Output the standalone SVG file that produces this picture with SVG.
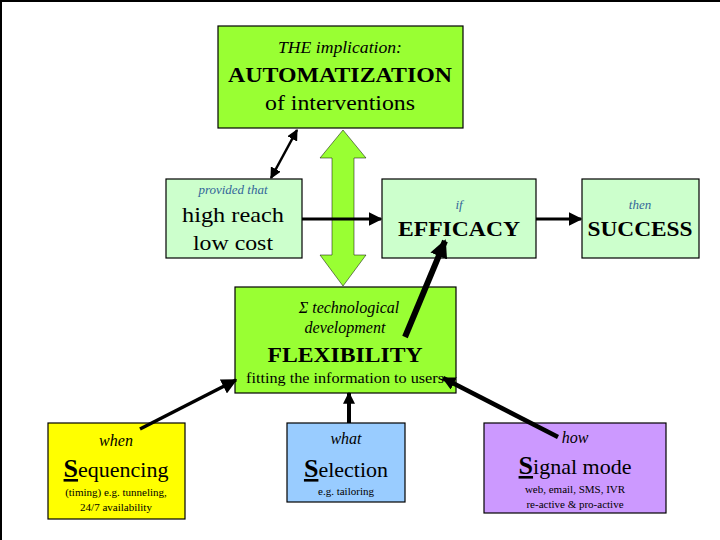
<svg xmlns="http://www.w3.org/2000/svg" width="720" height="540" viewBox="0 0 720 540">
<defs>
<style>
.box{stroke:#000;stroke-width:1.2}
.lime{fill:#99FF33}
.pale{fill:#CCFFCC}
text{fill:#000;text-anchor:middle}
.it{font-style:italic}
.b{font-weight:bold}
.blue{fill:#336699}
.ln{stroke:#000;fill:none}
</style>
<marker id="ahs" viewBox="0 0 10 10" refX="9" refY="5" markerWidth="3" markerHeight="3" orient="auto-start-reverse" markerUnits="strokeWidth">
<path d="M0,0 L10,5 L0,10 z" fill="#000"/>
</marker>
<marker id="aht" viewBox="0 0 10 10" refX="9" refY="5" markerWidth="4.5" markerHeight="4.5" orient="auto-start-reverse" markerUnits="strokeWidth">
<path d="M0,0 L10,5 L0,10 z" fill="#000"/>
</marker>
</defs>
<rect width="720" height="540" fill="#fff"/>
<path d="M1,540 V1 H720" stroke="#000" stroke-width="2" fill="none"/>

<g font-family="Liberation Serif, DejaVu Serif, serif">
<g id="top">
<rect class="box lime" x="218" y="26" width="245" height="102"/>
<text class="it" x="340" y="53" font-size="16" textLength="124" lengthAdjust="spacingAndGlyphs">THE implication:</text>
<text class="b" x="340" y="82" font-size="22" textLength="224" lengthAdjust="spacingAndGlyphs">AUTOMATIZATION</text>
<text x="340" y="110" font-size="21" textLength="150" lengthAdjust="spacingAndGlyphs">of interventions</text>
</g>

<g id="reach">
<rect class="box pale" x="166" y="179" width="136" height="79"/>
<text class="it blue" x="233" y="194" font-size="13">provided that</text>
<text x="233" y="222" font-size="21" textLength="102" lengthAdjust="spacingAndGlyphs">high reach</text>
<text x="233" y="250" font-size="21" textLength="80" lengthAdjust="spacingAndGlyphs">low cost</text>
</g>

<g id="efficacy">
<rect class="box pale" x="382" y="179" width="154" height="79"/>
<text class="it blue" x="459" y="209" font-size="13">if</text>
<text class="b" x="459" y="236" font-size="20" textLength="122" lengthAdjust="spacingAndGlyphs">EFFICACY</text>
</g>

<g id="success">
<rect class="box pale" x="582" y="179" width="117" height="79"/>
<text class="it blue" x="640" y="209" font-size="13">then</text>
<text class="b" x="640" y="236" font-size="20" textLength="105" lengthAdjust="spacingAndGlyphs">SUCCESS</text>
</g>

<g id="flexibility">
<rect class="box lime" x="235" y="287" width="221" height="106"/>
<text class="it" x="349" y="313" font-size="16">Σ technological</text>
<text class="it" x="345" y="333" font-size="16">development</text>
<text class="b" x="345" y="362" font-size="22" textLength="155" lengthAdjust="spacingAndGlyphs">FLEXIBILITY</text>
<text x="345" y="383" font-size="14" textLength="198" lengthAdjust="spacingAndGlyphs">fitting the information to users</text>
</g>

<g id="sequencing">
<rect class="box" fill="#FFFF00" x="48" y="423" width="137" height="96"/>
<text class="it" x="116" y="446" font-size="16">when</text>
<text x="116" y="477" font-size="22"><tspan font-weight="bold" font-size="26" text-decoration="underline">S</tspan>equencing</text>
<text x="116" y="496" font-size="11">(timing)  e.g. tunneling,</text>
<text x="116" y="511" font-size="11">24/7 availability</text>
</g>

<g id="selection">
<rect class="box" fill="#99CCFF" x="287" y="423" width="118" height="79"/>
<text class="it" x="346" y="444" font-size="16">what</text>
<text x="346" y="477" font-size="22"><tspan font-weight="bold" font-size="26" text-decoration="underline">S</tspan>election</text>
<text x="346" y="495" font-size="11">e.g. tailoring</text>
</g>

<g id="signal">
<rect class="box" fill="#CC99FF" x="484" y="423" width="182" height="90"/>
<text class="it" x="575" y="443" font-size="16">how</text>
<text x="575" y="474" font-size="22"><tspan font-weight="bold" font-size="26" text-decoration="underline">S</tspan>ignal mode</text>
<text x="575" y="493" font-size="11">web, email, SMS, IVR</text>
<text x="575" y="508" font-size="11">re-active &amp; pro-active</text>
</g>
</g>

<g id="connectors">
<path d="M343,130 L366,158 L354,158 L354,255 L366,255 L343,286 L320,255 L332,255 L332,158 L320,158 Z" fill="#99FF33" stroke="#000" stroke-width="0.5"/>
<line class="ln" x1="271" y1="178" x2="297" y2="130" stroke-width="2.5" marker-start="url(#aht)" marker-end="url(#aht)"/>
<line class="ln" x1="302" y1="219" x2="381" y2="219" stroke-width="3" marker-end="url(#aht)"/>
<line class="ln" x1="536" y1="219" x2="581" y2="219" stroke-width="3" marker-end="url(#aht)"/>
<line class="ln" x1="405" y1="337" x2="445" y2="241" stroke-width="6" marker-end="url(#ahs)"/>
<line class="ln" x1="140" y1="429" x2="236" y2="380" stroke-width="3.5" marker-end="url(#aht)"/>
<line class="ln" x1="349" y1="423" x2="349" y2="393" stroke-width="4" marker-end="url(#ahs)"/>
<line class="ln" x1="558" y1="437" x2="443" y2="378" stroke-width="4.5" marker-end="url(#ahs)"/>
</g>
</svg>
